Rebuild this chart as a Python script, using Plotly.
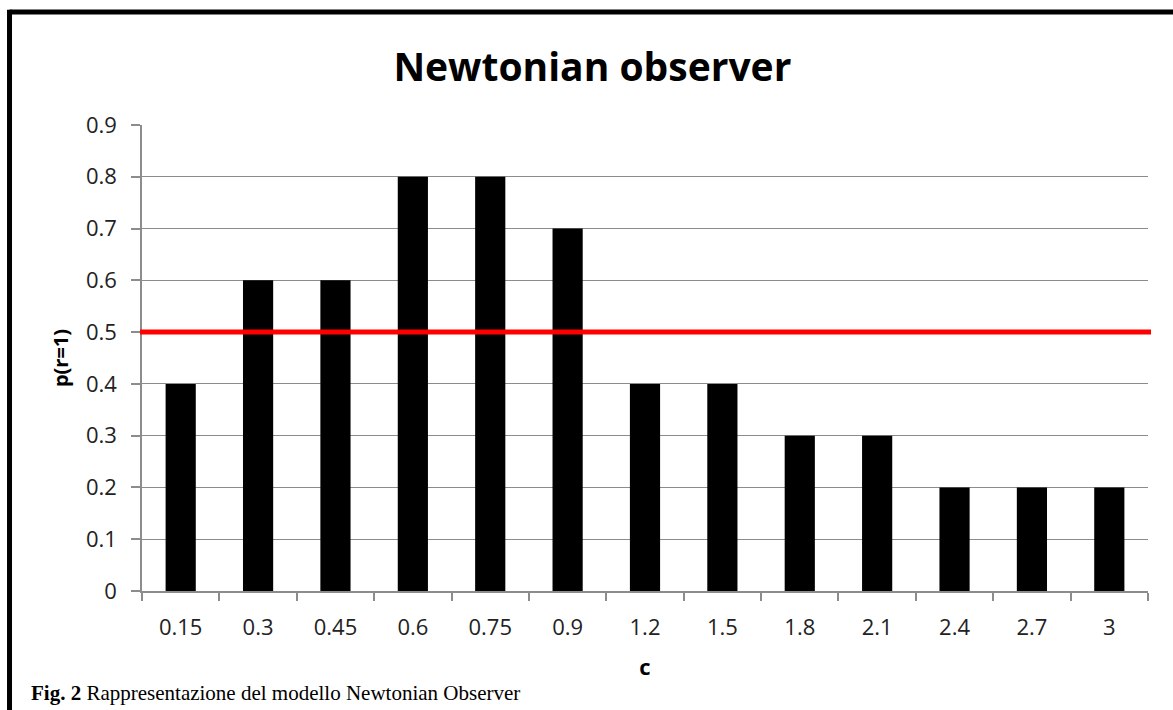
import plotly.graph_objects as go

categories = ["0.15", "0.3", "0.45", "0.6", "0.75", "0.9", "1.2", "1.5", "1.8", "2.1", "2.4", "2.7", "3"]
p_values = [0.4, 0.6, 0.6, 0.8, 0.8, 0.7, 0.4, 0.4, 0.3, 0.3, 0.2, 0.2, 0.2]
threshold = 0.5
y_ticks = [0, 0.1, 0.2, 0.3, 0.4, 0.5, 0.6, 0.7, 0.8, 0.9]

FONT = "Open Sans"
GRID = "#8c8c8c"

fig = go.Figure()
fig.add_trace(go.Bar(x=categories, y=p_values, marker=dict(color="black", line=dict(width=0)),
                     showlegend=False))

fig.add_shape(type="line", xref="paper", yref="y", x0=-0.002, x1=1.003, y0=threshold, y1=threshold,
              line=dict(color="#ff0000", width=5))

# frame
fig.add_shape(type="line", xref="paper", yref="paper", x0=-0.1317, x1=1.05, y0=1.2425, y1=1.2425,
              line=dict(color="black", width=5))
fig.add_shape(type="line", xref="paper", yref="paper", x0=-0.1317, x1=-0.1317, y0=1.2475, y1=-0.3,
              line=dict(color="black", width=5))

fig.update_layout(
    width=1173, height=710,
    margin=dict(l=142, r=25, t=125, b=119),
    paper_bgcolor="white", plot_bgcolor="white",
    bargap=0.61,
    title=dict(text="<b>Newtonian observer</b>", x=0.505, xanchor="center", y=0.905, yanchor="middle",
               font=dict(family=FONT, size=39, color="black")),
    xaxis=dict(showline=True, linecolor=GRID, linewidth=1.5, ticks="outside", tickson="boundaries",
               ticklen=8, tickcolor=GRID, tickwidth=1.5, showgrid=False, ticklabelstandoff=16,
               tickfont=dict(family=FONT, size=22, color="#222"),
               title=dict(text="<b>c</b>", font=dict(family=FONT, size=22, color="black"), standoff=19)),
    yaxis=dict(range=[0, 0.9], tickvals=y_ticks, ticktext=[f"{v:g}" for v in y_ticks],
               showline=True, linecolor=GRID, linewidth=1.5, ticks="outside", ticklen=9,
               tickcolor=GRID, tickwidth=1.5, showgrid=True, gridcolor=GRID, gridwidth=1,
               zeroline=False, ticklabelstandoff=10,
               tickfont=dict(family=FONT, size=22, color="#222"),
               title=dict(text="<b>p(r=1)</b>", font=dict(family=FONT, size=20, color="black"), standoff=12)),
    annotations=[dict(text="<b>Fig. 2</b> Rappresentazione del modello Newtonian Observer",
                      xref="paper", yref="paper", x=-0.112, y=-0.219, xanchor="left", yanchor="middle",
                      showarrow=False, font=dict(family="Liberation Serif", size=21, color="black"))],
)

fig.write_html("out.html")
